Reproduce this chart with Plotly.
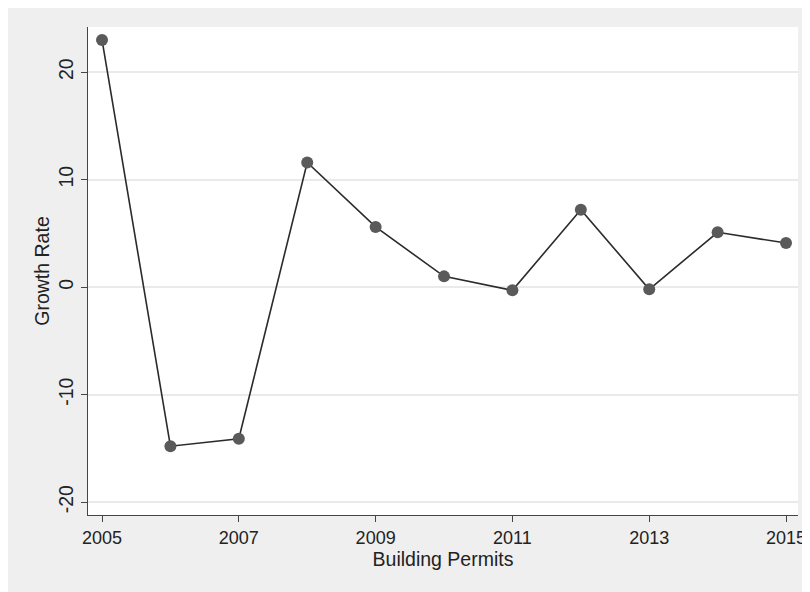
import plotly.graph_objects as go

years = [2005, 2006, 2007, 2008, 2009, 2010, 2011, 2012, 2013, 2014, 2015]
growth_rate = [23.0, -14.8, -14.1, 11.6, 5.6, 1.0, -0.3, 7.2, -0.2, 5.1, 4.1]
x_ticks = [2005, 2007, 2009, 2011, 2013, 2015]
y_ticks = [-20, -10, 0, 10, 20]
y_tick_labels = ["-20", "-10", "0", "10", "20"]

fig = go.Figure()
fig.add_trace(go.Scatter(
    x=years, y=growth_rate, mode="lines+markers",
    line=dict(color="#2b2b2b", width=1.6),
    marker=dict(color="#5a5a5a", size=12),
    showlegend=False,
))

W, H = 802, 584
ml, mr, mt, mb = 80, 12, 19, 77

font = dict(family="Liberation Sans, Arial, sans-serif", size=19.5, color="#222222")
xtick_font = dict(family="Liberation Sans, Arial, sans-serif", size=18, color="#222222")

fig.update_layout(
    width=W, height=H,
    margin=dict(l=ml, r=mr, t=mt, b=mb),
    paper_bgcolor="#efefef",
    plot_bgcolor="white",
    font=font,
    xaxis=dict(
        range=[2004.795, 2015.175],
        tickvals=x_ticks, ticks="outside", ticklen=6, tickcolor="#444",
        showline=True, linecolor="#444", linewidth=1.2,
        showgrid=False, zeroline=False, automargin=False,
        ticklabeloverflow="allow",
        title=dict(text="Building Permits", standoff=1, font=font),
        tickfont=xtick_font,
    ),
    yaxis=dict(
        range=[-21.2, 24.2],
        tickvals=y_ticks, ticktext=y_tick_labels,
        ticks="outside", ticklen=6, tickcolor="#444",
        showline=True, linecolor="#444", linewidth=1.2,
        showgrid=True, gridcolor="#eaeaea", gridwidth=1.5,
        zeroline=False, tickangle=-90, automargin=False,
        title=dict(text="Growth Rate", standoff=0, font=font),
        tickfont=font,
    ),
)

fig.write_html("out.html")
